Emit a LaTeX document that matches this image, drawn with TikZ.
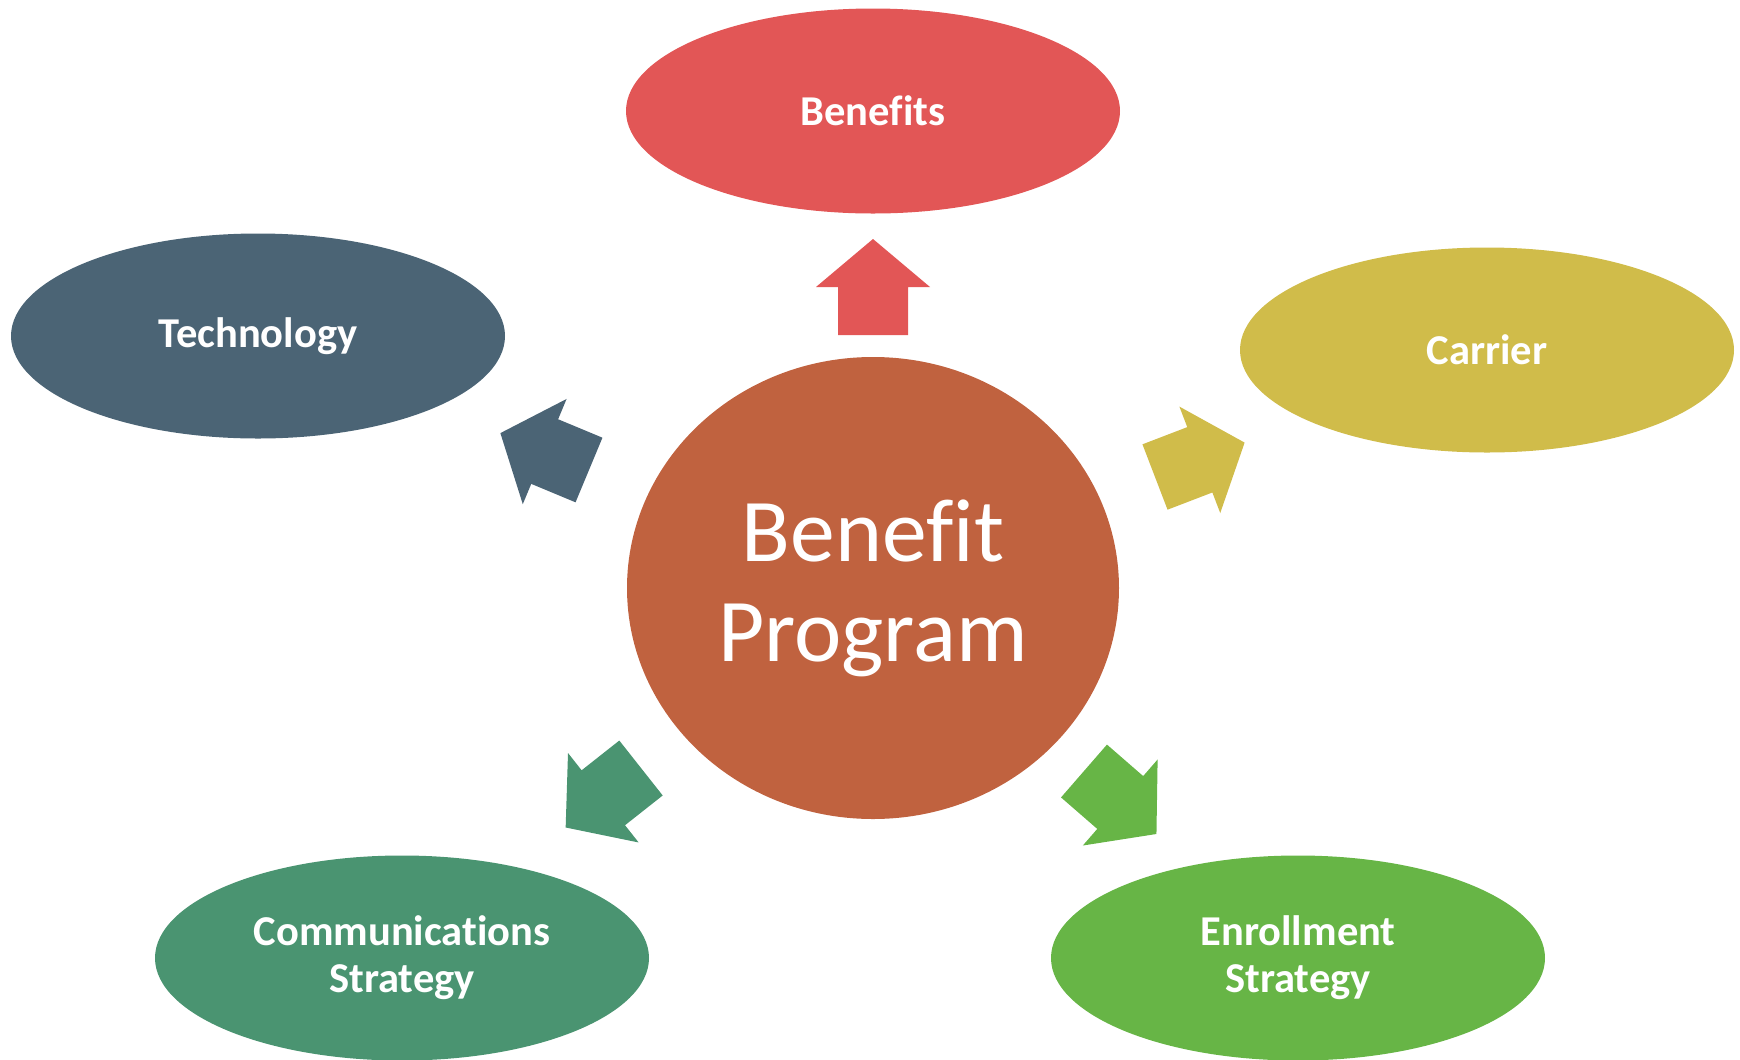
\documentclass[tikz,border=0pt]{standalone}
\usepackage{fontspec}
\setmainfont{Carlito}[Ligatures=NoCommon]
\usetikzlibrary{shapes.geometric}

\definecolor{benred}{HTML}{E25656}
\definecolor{hubbrown}{HTML}{C0623F}
\definecolor{techslate}{HTML}{4B6475}
\definecolor{carmustard}{HTML}{D0BC4A}
\definecolor{commteal}{HTML}{4A9471}
\definecolor{enrgreen}{HTML}{67B546}

% block arrow: colour, base x, base y, direction
\newcommand{\blockarrow}[4]{%
  \fill[#1,shift={(#2,#3)},rotate=#4] (0,-0.35) -- (0.48,-0.35) -- (0.48,-0.57)
    -- (0.96,0) -- (0.48,0.57) -- (0.48,0.35) -- (0,0.35) -- cycle;}

\begin{document}
\begin{tikzpicture}[every node/.style={text=white,align=center},
    leaf/.style={shape=ellipse,inner sep=0pt,minimum width=4.94cm,minimum height=2.05cm,
      font=\bfseries\fontsize{12.1}{13.3}\selectfont}]
            \useasboundingbox (0,0) rectangle (17.4,-10.59);
            \node[shape=ellipse,fill=hubbrown,inner sep=0pt,minimum width=4.92cm,minimum height=4.62cm,
              font=\fontsize{25.5}{28.5}\selectfont](hub)at(8.73,-5.88){Benefit\\Program};
            \node[leaf,fill=benred](benefits)at(8.73,-1.11){Benefits};
            \node[leaf,fill=techslate](tech)at(2.58,-3.36){Technology};
            \node[leaf,fill=carmustard](carrier)at(14.87,-3.50){Carrier};
            \node[leaf,fill=commteal](comm)at(4.02,-9.58){Communications\\Strategy};
            \node[leaf,fill=enrgreen](enroll)at(12.98,-9.58){Enrollment\\Strategy};
            \blockarrow{benred}{8.73}{-3.35}{90}
            \blockarrow{techslate}{5.89}{-4.70}{157.4}
            \blockarrow{carmustard}{11.55}{-4.77}{21}
            \blockarrow{commteal}{6.41}{-7.68}{218.3}
            \blockarrow{enrgreen}{10.84}{-7.71}{-41}
        \end{tikzpicture}
\end{document}
